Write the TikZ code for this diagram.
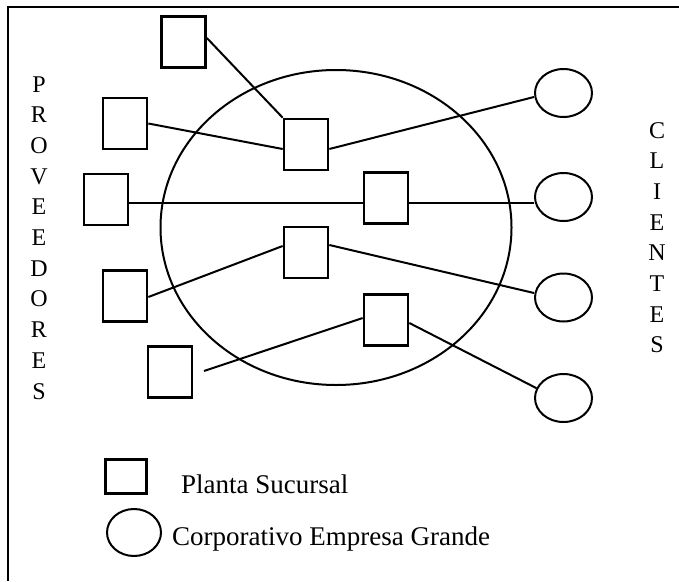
\documentclass[tikz,border=0pt]{standalone}
\usepackage{fontspec}
\setmainfont{Liberation Serif}
\usetikzlibrary{shapes.geometric}
\begin{document}
\begin{tikzpicture}[x=1pt,y=-1pt,
  plant/.style={draw,line width=2.7pt,minimum width=44pt,minimum height=51pt,inner sep=0pt},
  client/.style={draw,ellipse,line width=2pt,minimum width=57pt,minimum height=48pt,inner sep=0pt},
  link/.style={line width=2pt},
  letter/.style={font=\fontsize{24}{24}\selectfont,anchor=base,inner sep=0pt},
  legend/.style={font=\fontsize{27}{27}\selectfont,anchor=base west,inner sep=0pt}]
\useasboundingbox (0,0) rectangle (679,581);
% frame
\draw[line width=2.5pt] (8,581) -- (8,7) -- (679,7);
% corporate boundary
\node[draw,ellipse,line width=2pt,minimum width=351pt,minimum height=315pt,inner sep=0pt] (corp) at (336,227.5) {};
% branch plants
\node[plant] (A) at (183.5,42) {};
\node[plant] (B) at (125,123.5) {};
\node[plant] (C) at (106,199.5) {};
\node[plant] (D) at (125,296) {};
\node[plant] (E) at (170,372) {};
\node[plant] (F) at (306,144.5) {};
\node[plant] (G) at (386,198) {};
\node[plant] (H) at (306,252.5) {};
\node[plant] (I) at (386,320) {};
% clients
\node[client] (c1) at (563.5,93) {};
\node[client] (c2) at (563.5,197) {};
\node[client] (c3) at (563.5,297.5) {};
\node[client] (c4) at (563.5,398) {};
% connections
\coordinate (e0) at (204,371);
\draw[link] ([yshift=4pt]A.east) -- (F.north west);
\draw[link] (B.east) -- ([yshift=-4.5pt]F.west);
\draw[link] ([yshift=-4.5pt]F.east) -- ([yshift=-4pt]c1.west);
\draw[link] ([yshift=-3.5pt]C.east) -- ([yshift=-5pt]G.west);
\draw[link] ([yshift=-5pt]G.east) -- ([yshift=-6pt]c2.west);
\draw[link] ([yshift=-1pt]D.east) -- ([yshift=6.5pt]H.west);
\draw[link] ([yshift=7.5pt]H.east) -- ([yshift=4.5pt]c3.west);
\draw[link] (e0) -- ([yshift=2pt]I.west);
\draw[link] ([yshift=-3pt]I.east) -- (c4.160);
% side labels
\foreach \ch [count=\i from 0] in {P,R,O,V,E,E,D,O,R,E,S}
  \node[letter,name=prov\i] at (39,92+30.7*\i) {\ch};
\foreach \ch [count=\i from 0] in {C,L,I,E,N,T,E,S}
  \node[letter,name=cli\i] at (657,138+30.7*\i) {\ch};
% legend
\node[draw,line width=2.7pt,minimum width=41.5pt,minimum height=34.5pt,inner sep=0pt] (legplant) at (126,476.5) {};
\node[legend] (legplanttext) at (181,493) {Planta Sucursal};
\node[draw,ellipse,line width=2pt,minimum width=54pt,minimum height=47pt,inner sep=0pt] (legcorp) at (134,532.5) {};
\node[legend] (legcorptext) at (172,545) {Corporativo Empresa Grande};
\end{tikzpicture}
\end{document}
